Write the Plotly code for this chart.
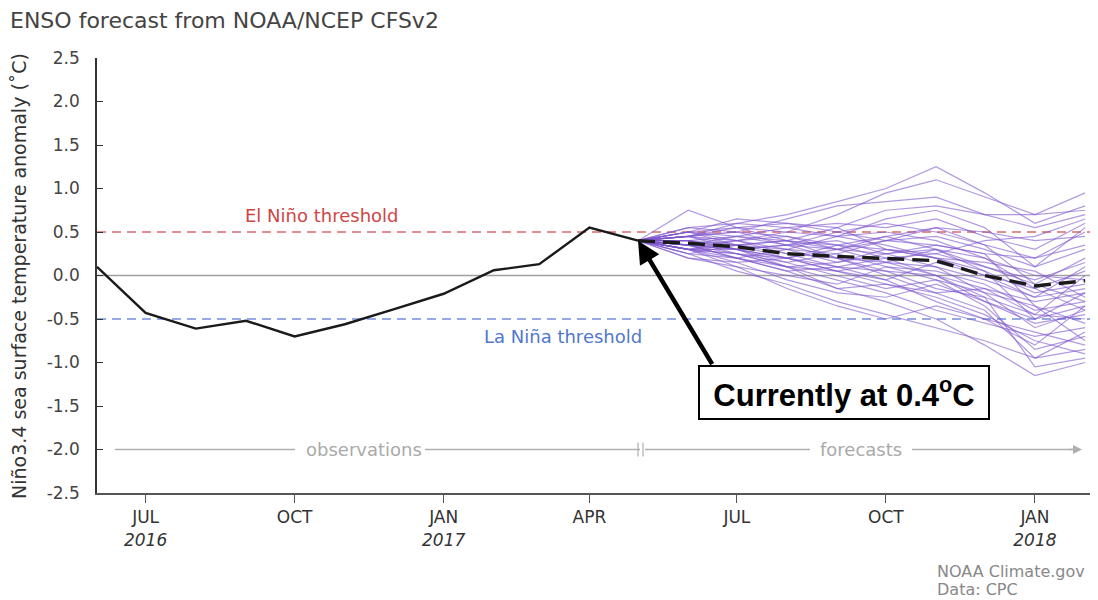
import plotly.graph_objects as go

# ---------------- data ----------------
obs_dates = ["2016-06-01", "2016-07-01", "2016-08-01", "2016-09-01", "2016-10-01",
             "2016-11-01", "2016-12-01", "2017-01-01", "2017-02-01", "2017-03-01",
             "2017-04-01", "2017-05-01"]
obs_values = [0.10, -0.43, -0.61, -0.52, -0.70, -0.56, -0.39, -0.21, 0.06, 0.13, 0.55, 0.40]

fc_dates = ["2017-05-01", "2017-06-01", "2017-07-01", "2017-08-01", "2017-09-01",
            "2017-10-01", "2017-11-01", "2017-12-01", "2018-01-01", "2018-02-01"]
fc_mean = [0.40, 0.37, 0.33, 0.25, 0.22, 0.20, 0.17, 0.00, -0.12, -0.06]

members = [
    [0.40, 0.55, 0.60, 0.70, 0.85, 1.00, 1.25, 0.95, 0.60, 0.80],
    [0.40, 0.75, 0.55, 0.50, 0.70, 0.95, 1.10, 0.90, 0.70, 0.95],
    [0.40, 0.45, 0.50, 0.65, 0.80, 0.85, 0.90, 0.70, 0.55, 0.70],
    [0.40, 0.50, 0.65, 0.60, 0.55, 0.75, 0.80, 0.70, 0.70, 0.75],
    [0.40, 0.35, 0.45, 0.55, 0.60, 0.55, 0.65, 0.45, 0.30, 0.60],
    [0.40, 0.40, 0.30, 0.35, 0.50, 0.60, 0.50, 0.35, 0.20, 0.50],
    [0.40, 0.30, 0.25, 0.20, 0.35, 0.45, 0.55, 0.50, 0.40, 0.45],
    [0.40, 0.45, 0.40, 0.30, 0.25, 0.40, 0.45, 0.30, 0.10, 0.30],
    [0.40, 0.35, 0.40, 0.45, 0.30, 0.25, 0.30, 0.10, -0.10, 0.20],
    [0.40, 0.30, 0.35, 0.25, 0.20, 0.15, 0.30, 0.20, 0.00, -0.05],
    [0.40, 0.25, 0.20, 0.10, 0.15, 0.30, 0.20, 0.05, -0.20, -0.10],
    [0.40, 0.40, 0.30, 0.20, 0.10, 0.05, 0.00, -0.15, -0.30, -0.20],
    [0.40, 0.20, 0.10, 0.00, -0.10, 0.10, 0.05, -0.10, -0.40, -0.30],
    [0.40, 0.30, 0.15, -0.05, -0.20, -0.25, -0.10, -0.30, -0.50, -0.35],
    [0.40, 0.35, 0.25, 0.10, -0.05, -0.20, -0.40, -0.55, -0.70, -0.60],
    [0.40, 0.25, 0.05, -0.10, -0.30, -0.45, -0.60, -0.75, -0.95, -0.85],
    [0.40, 0.30, 0.20, 0.05, -0.15, -0.30, -0.50, -0.80, -1.15, -1.00],
    [0.40, 0.45, 0.35, 0.20, 0.05, -0.10, -0.25, -0.45, -0.75, -0.90],
    [0.40, 0.40, 0.45, 0.35, 0.30, 0.15, 0.00, -0.30, -0.55, -0.45],
    [0.40, 0.50, 0.45, 0.40, 0.35, 0.30, 0.20, 0.00, -0.25, -0.15],
    [0.40, 0.35, 0.30, 0.35, 0.40, 0.25, 0.10, -0.20, -0.60, -0.40],
    [0.40, 0.30, 0.25, 0.15, 0.25, 0.10, -0.05, -0.35, -0.85, -0.70],
    [0.40, 0.45, 0.50, 0.45, 0.35, 0.20, 0.25, 0.10, -0.05, 0.15],
    [0.40, 0.55, 0.50, 0.35, 0.20, 0.05, -0.15, -0.25, -0.45, -0.50],
    [0.40, 0.40, 0.35, 0.30, 0.15, 0.25, 0.35, 0.25, -0.35, -0.75],
    [0.40, 0.35, 0.20, 0.30, 0.45, 0.35, 0.20, 0.15, 0.05, -0.25],
    [0.40, 0.30, 0.40, 0.50, 0.45, 0.50, 0.40, 0.20, -0.15, 0.05],
    [0.40, 0.45, 0.30, 0.15, 0.00, -0.15, -0.05, -0.20, -0.35, -0.55],
    [0.40, 0.25, 0.35, 0.40, 0.20, 0.00, -0.20, -0.40, -0.95, -0.65],
    [0.40, 0.50, 0.55, 0.40, 0.30, 0.40, 0.55, 0.35, -0.10, -0.30],
    [0.40, 0.35, 0.30, 0.20, 0.30, 0.45, 0.30, 0.05, -0.50, -0.20],
    [0.40, 0.40, 0.25, 0.10, 0.05, 0.15, 0.10, -0.05, -0.25, 0.10],
    [0.40, 0.45, 0.55, 0.60, 0.50, 0.40, 0.35, 0.25, 0.20, 0.35],
    [0.40, 0.30, 0.10, -0.15, -0.35, -0.50, -0.35, -0.50, -0.80, -0.35],
    [0.40, 0.20, 0.15, 0.20, 0.05, -0.05, 0.15, 0.00, -0.15, -0.40],
    [0.40, 0.50, 0.40, 0.25, 0.10, 0.20, 0.00, -0.25, -1.05, -0.95],
    [0.40, 0.45, 0.60, 0.55, 0.45, 0.65, 0.75, 0.55, 0.10, 0.55],
    [0.40, 0.35, 0.20, 0.05, 0.10, -0.05, -0.30, -0.50, -0.65, -0.80],
    [0.40, 0.50, 0.35, 0.40, 0.55, 0.30, 0.25, 0.40, 0.45, 0.65],
    [0.40, 0.30, 0.30, 0.10, -0.15, -0.10, -0.20, -0.15, -0.45, 0.00],
]

tick_dates = ["2016-07-01", "2016-10-01", "2017-01-01", "2017-04-01",
              "2017-07-01", "2017-10-01", "2018-01-01"]
tick_labels = ["JUL<br><i>2016</i>", "OCT", "JAN<br><i>2017</i>", "APR",
               "JUL", "OCT", "JAN<br><i>2018</i>"]
y_ticks = [2.5, 2.0, 1.5, 1.0, 0.5, 0.0, -0.5, -1.0, -1.5, -2.0, -2.5]

el_nino = 0.5
la_nina = -0.5
current_value = 0.4
current_date = "2017-05-01"

FONT = "DejaVu Sans"

fig = go.Figure()

# threshold and zero lines
fig.add_trace(go.Scatter(x=["2016-06-01", "2018-02-04"], y=[el_nino, el_nino], mode="lines",
                         line=dict(color="rgba(215,90,90,0.9)", width=1.3, dash="9px,6px"),
                         hoverinfo="skip", showlegend=False))
fig.add_trace(go.Scatter(x=["2016-06-01", "2018-02-04"], y=[la_nina, la_nina], mode="lines",
                         line=dict(color="rgba(100,130,215,0.9)", width=1.3, dash="9px,6px"),
                         hoverinfo="skip", showlegend=False))
fig.add_trace(go.Scatter(x=["2016-06-01", "2018-02-04"], y=[0, 0], mode="lines",
                         line=dict(color="rgb(160,160,160)", width=1.5),
                         hoverinfo="skip", showlegend=False))

for m in members:
    fig.add_trace(go.Scatter(x=fc_dates, y=m, mode="lines",
                             line=dict(color="rgba(125,85,205,0.6)", width=1.2),
                             hoverinfo="skip", showlegend=False))

fig.add_trace(go.Scatter(x=obs_dates, y=obs_values, mode="lines",
                         line=dict(color="#1a1a1a", width=2.4), showlegend=False))
fig.add_trace(go.Scatter(x=fc_dates, y=fc_mean, mode="lines",
                         line=dict(color="#1a1a1a", width=3.4, dash="17px,8px"), showlegend=False))

# The page renders the figure with an 8 px body margin, so the figure is 8 px smaller.
OFF = 8
W, H = 1098 - OFF, 600 - OFF
PL, PR, PT, PB = 97, 1090, 58, 493          # plot area in page pixels
L, R, T, B = PL - OFF, W - (PR - OFF), PT - OFF, H - (PB - OFF)
PW = PR - PL
PH = PB - PT


def px(xp):
    return (xp - PL) / PW


def py(yp):
    return (PB - yp) / PH


shapes = []
gray = "rgb(175,175,175)"
arrow_y = -2.0
for x0, x1 in [(115, 295), (425, 640), (645, 810), (912, 1078)]:
    shapes.append(dict(type="line", xref="paper", yref="y", x0=px(x0), x1=px(x1),
                       y0=arrow_y, y1=arrow_y, line=dict(color=gray, width=1.5)))
for xx in (638, 643):
    shapes.append(dict(type="line", xref="paper", yref="y", x0=px(xx), x1=px(xx),
                       y0=arrow_y - 0.08, y1=arrow_y + 0.08, line=dict(color=gray, width=1.2)))

C = dict(xanchor="center", yanchor="middle")
annotations = [
    dict(xref="paper", yref="y", x=px(1082), y=arrow_y, ax=-14, ay=0,
         axref="pixel", ayref="pixel", text="", showarrow=True, arrowhead=2,
         arrowsize=1.2, arrowwidth=1.5, arrowcolor=gray),
    dict(xref="paper", yref="y", x=px(364), y=arrow_y, text="observations", showarrow=False,
         font=dict(family=FONT, size=18, color="rgb(170,170,170)"), **C),
    dict(xref="paper", yref="y", x=px(861), y=arrow_y, text="forecasts", showarrow=False,
         font=dict(family=FONT, size=18, color="rgb(170,170,170)"), **C),
    dict(xref="paper", yref="y", x=px(321), y=el_nino, yshift=17, text="El Niño threshold",
         showarrow=False, font=dict(family=FONT, size=18, color="rgb(205,70,70)"), **C),
    dict(xref="paper", yref="y", x=px(563), y=la_nina, yshift=-17, text="La Niña threshold",
         showarrow=False, font=dict(family=FONT, size=18, color="rgb(80,120,205)"), **C),
    dict(xref="paper", yref="paper", x=px(19), y=py(276), text="Niño3.4 sea surface temperature anomaly (˚C)",
         textangle=-90, showarrow=False, font=dict(family=FONT, size=19, color="#333"), **C),
    dict(xref="paper", yref="paper", x=px(935), y=py(571), text="NOAA Climate.gov",
         showarrow=False, font=dict(family=FONT, size=16, color="#888"),
         xanchor="left", yanchor="middle"),
    dict(xref="paper", yref="paper", x=px(935), y=py(589), text="Data: CPC",
         showarrow=False, font=dict(family=FONT, size=16, color="#888"),
         xanchor="left", yanchor="middle"),
    # arrow to current value
    dict(x=current_date, y=current_value, xref="x", yref="y", ax=75, ay=125, text="",
         showarrow=True, arrowhead=2, arrowsize=1.0, arrowwidth=4.5, arrowcolor="black", standoff=0),
    dict(xref="paper", yref="paper", x=px(844), y=py(392), showarrow=False,
         text="<b>Currently at 0.4<sup>o</sup>C</b>", width=286, height=49,
         bgcolor="white", bordercolor="black", borderwidth=2, borderpad=1,
         font=dict(family="Liberation Sans", size=31, color="black"), **C),
]

fig.update_layout(
    width=W, height=H,
    margin=dict(l=L, r=R, t=T, b=B, autoexpand=False),
    plot_bgcolor="white", paper_bgcolor="white",
    title=dict(text="ENSO forecast from NOAA/NCEP CFSv2", x=(10 - OFF) / W, xanchor="left",
               y=1 - (20 - OFF) / H, yanchor="middle", xref="container", yref="container",
               font=dict(family=FONT, size=22, color="#444")),
    xaxis=dict(type="date", range=["2016-06-01", "2018-02-04"], tickvals=tick_dates,
               ticktext=tick_labels, ticks="outside", ticklen=8, tickcolor="#555",
               showline=True, linecolor="#555", linewidth=2, showgrid=False, zeroline=False,
               tickfont=dict(family=FONT, size=17, color="#333")),
    yaxis=dict(range=[-2.5, 2.5], tickvals=y_ticks, ticktext=[f"{v:.1f}" for v in y_ticks],
               ticks="inside", ticklen=6, tickcolor="#333", showline=True, linecolor="#333",
               linewidth=1.5, showgrid=False, zeroline=False, ticklabelstandoff=12,
               tickfont=dict(family=FONT, size=17, color="#444")),
    shapes=shapes, annotations=annotations,
)

fig.write_html("out.html")
